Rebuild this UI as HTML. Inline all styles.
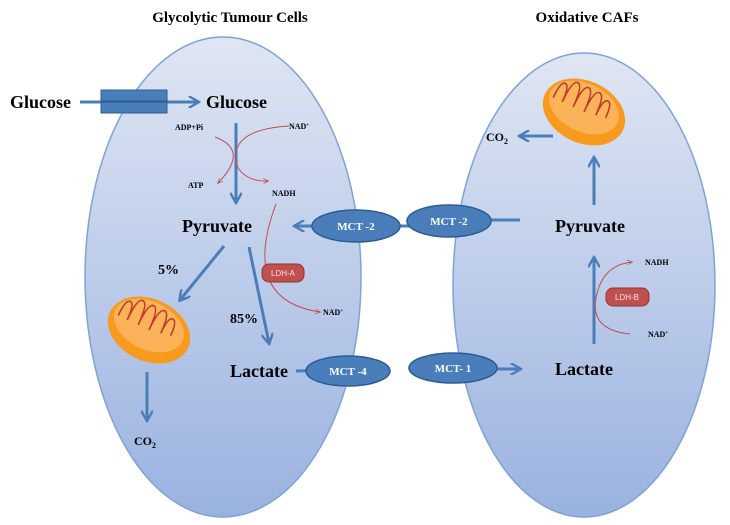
<!DOCTYPE html>
<html><head><meta charset="utf-8"><style>
html,body{margin:0;padding:0;background:#fff;}
svg{display:block;font-family:"Liberation Serif",serif;}
</style></head><body>
<svg width="730" height="525" viewBox="0 0 730 525" xmlns="http://www.w3.org/2000/svg">
<defs>
<linearGradient id="g" x1="0" y1="0" x2="0" y2="1">
<stop offset="0" stop-color="#dfe6f3"/><stop offset="1" stop-color="#9ab2e0"/>
</linearGradient>
<marker id="a" viewBox="0 0 10 10" refX="8" refY="5" markerWidth="4" markerHeight="4" orient="auto"><path d="M0,0 L9,5 L0,10" fill="none" stroke="#4a7ebb" stroke-width="2"/></marker>
<marker id="r" viewBox="0 0 10 10" refX="8" refY="5" markerWidth="6" markerHeight="6" orient="auto"><path d="M0,1 L9,5 L0,9" fill="none" stroke="#c0504d" stroke-width="1.2"/></marker>
<g id="mito">
<ellipse cx="0" cy="0" rx="43" ry="31" fill="#f79a1e"/>
<ellipse cx="-2" cy="-4" rx="37" ry="24" fill="#fbb35a"/>
<path d="M-34,0 q0,-18 5,-18 q5,0 5,18 q0,-24 6,-24 q6,0 6,24 q0,-24 6,-24 q6,0 6,24 q0,-24 6,-24 q6,0 6,22 q0,-18 5,-18 q5,0 5,16" fill="none" stroke="#c0392b" stroke-width="1.6"/>
</g>
</defs>
<text x="230" y="22" font-size="15" font-weight="bold" text-anchor="middle">Glycolytic Tumour Cells</text>
<text x="587" y="22" font-size="15" font-weight="bold" text-anchor="middle">Oxidative CAFs</text>
<ellipse cx="223" cy="277" rx="138" ry="240" fill="url(#g)" stroke="#7fa3d6" stroke-width="1.5"/>
<ellipse cx="584" cy="285" rx="131" ry="232" fill="url(#g)" stroke="#7fa3d6" stroke-width="1.5"/>
<g stroke="#4a7ebb" stroke-width="3" fill="none" marker-end="url(#a)">
<line x1="80" y1="102" x2="198" y2="102"/>
<line x1="236" y1="123" x2="236" y2="202"/>
<line x1="224" y1="246" x2="180" y2="300"/>
<line x1="249" y1="247" x2="269" y2="343"/>
<line x1="147" y1="372" x2="147" y2="420"/>
<line x1="410" y1="226" x2="295" y2="226"/>
<line x1="520" y1="220" x2="430" y2="220"/>
<line x1="296" y1="371" x2="380" y2="369"/>
<line x1="440" y1="369" x2="520" y2="369"/>
<line x1="594" y1="344" x2="594" y2="258"/>
<line x1="594" y1="205" x2="594" y2="158"/>
<line x1="553" y1="136" x2="520" y2="136"/>
</g>
<rect x="101" y="90" width="66" height="11" fill="#4a7ebb" stroke="#2c5c94"/>
<rect x="101" y="102" width="66" height="11" fill="#4a7ebb" stroke="#2c5c94"/>
<g fill="none" stroke="#c0504d" stroke-width="1" marker-end="url(#r)">
<path d="M215,137 Q250,150 218,183"/>
<path d="M289,126 Q225,130 238,168 Q248,182 268,181"/>
<path d="M276,204 Q240,300 320,312"/>
<path d="M630,334 Q590,330 596,298 Q602,265 632,262"/>
</g>
<ellipse cx="356" cy="226" rx="44" ry="16" fill="#4a7ebb" stroke="#2c5c94" stroke-width="1.5"/>
<ellipse cx="449" cy="221" rx="42" ry="16" fill="#4a7ebb" stroke="#2c5c94" stroke-width="1.5"/>
<ellipse cx="348" cy="371" rx="42" ry="15" fill="#4a7ebb" stroke="#2c5c94" stroke-width="1.5"/>
<ellipse cx="453" cy="368" rx="44" ry="15" fill="#4a7ebb" stroke="#2c5c94" stroke-width="1.5"/>
<rect x="262" y="264" width="42" height="18" rx="7" fill="#c0504d" stroke="#943634"/>
<rect x="606" y="288" width="43" height="18" rx="7" fill="#c0504d" stroke="#943634"/>
<g fill="#fff" font-size="11" font-weight="bold" text-anchor="middle">
<text x="356" y="230">MCT -2</text><text x="449" y="225">MCT -2</text>
<text x="348" y="375">MCT -4</text><text x="453" y="372">MCT- 1</text>
</g>
<g fill="#fde" font-family="Liberation Sans,sans-serif" font-size="8" text-anchor="middle">
<text x="283" y="276">LDH-A</text><text x="627" y="300">LDH-B</text>
</g>
<use href="#mito" transform="translate(149,330) rotate(25)"/>
<use href="#mito" transform="translate(584,112) rotate(25)"/>
<g font-weight="bold" fill="#000">
<text x="10" y="108" font-size="18">Glucose</text>
<text x="206" y="108" font-size="18">Glucose</text>
<text x="182" y="232" font-size="18">Pyruvate</text>
<text x="555" y="232" font-size="18">Pyruvate</text>
<text x="230" y="377" font-size="18">Lactate</text>
<text x="555" y="375" font-size="18">Lactate</text>
<text x="158" y="274" font-size="14">5%</text>
<text x="230" y="323" font-size="14">85%</text>
<text x="134" y="445" font-size="12">CO<tspan font-size="8" dy="3">2</tspan></text>
<text x="486" y="141" font-size="12">CO<tspan font-size="8" dy="3">2</tspan></text>
<g font-size="8">
<text x="175" y="130">ADP+Pi</text>
<text x="289" y="129">NAD<tspan font-size="5" dy="-3">+</tspan></text>
<text x="188" y="188">ATP</text>
<text x="272" y="196">NADH</text>
<text x="323" y="315">NAD<tspan font-size="5" dy="-3">+</tspan></text>
<text x="645" y="265">NADH</text>
<text x="648" y="337">NAD<tspan font-size="5" dy="-3">+</tspan></text>
</g>
</g>
</svg>
</body></html>
